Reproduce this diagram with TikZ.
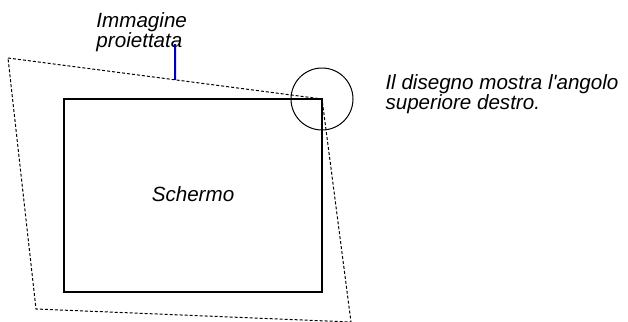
\documentclass[tikz,border=0pt]{standalone}
\usepackage{fontspec}
\setmainfont{Liberation Sans}
\usepackage{tikz}
\usetikzlibrary{calc}

\begin{document}
\begin{tikzpicture}[x=0.5pt,y=-0.5pt,line width=0.5pt,
  lbl/.style={inner sep=0pt,font=\fontsize{10.3}{10}\selectfont\itshape,align=left}]
  \useasboundingbox (0,0) rectangle (628,322);
  % projected image
  \coordinate (pTL) at (8,58);
  \coordinate (pTR) at (322,99);
  \coordinate (pBR) at (351,322);
  \coordinate (pBL) at (36,309);
  \draw[dash pattern=on 1.5pt off 1pt] (pTL) -- (pTR) -- (pBR) -- (pBL) -- cycle;
  % screen
  \coordinate (sTL) at (64,99);
  \coordinate (sBR) at (322,292);
  \draw[line width=0.65pt] (sTL) rectangle (sBR);
  \node[lbl,anchor=base] (schermo) at ($(sTL)!0.5!(sBR)+(0,6)$) {Schermo};
  % corner circle
  \draw (pTR) circle (31);
  % labels
  \node[lbl,anchor=north west] (imm) at (96,12.5) {Immagine\\proiettata};
  \coordinate (pTop) at ($(pTL)!0.532!(pTR)$);
  \draw[blue!70!black,line width=1pt] (175,44) -- (pTop);
  \node[lbl,anchor=north west] (nota) at (385,74) {Il disegno mostra l\textquotesingle angolo\\superiore destro.};
\end{tikzpicture}
\end{document}
